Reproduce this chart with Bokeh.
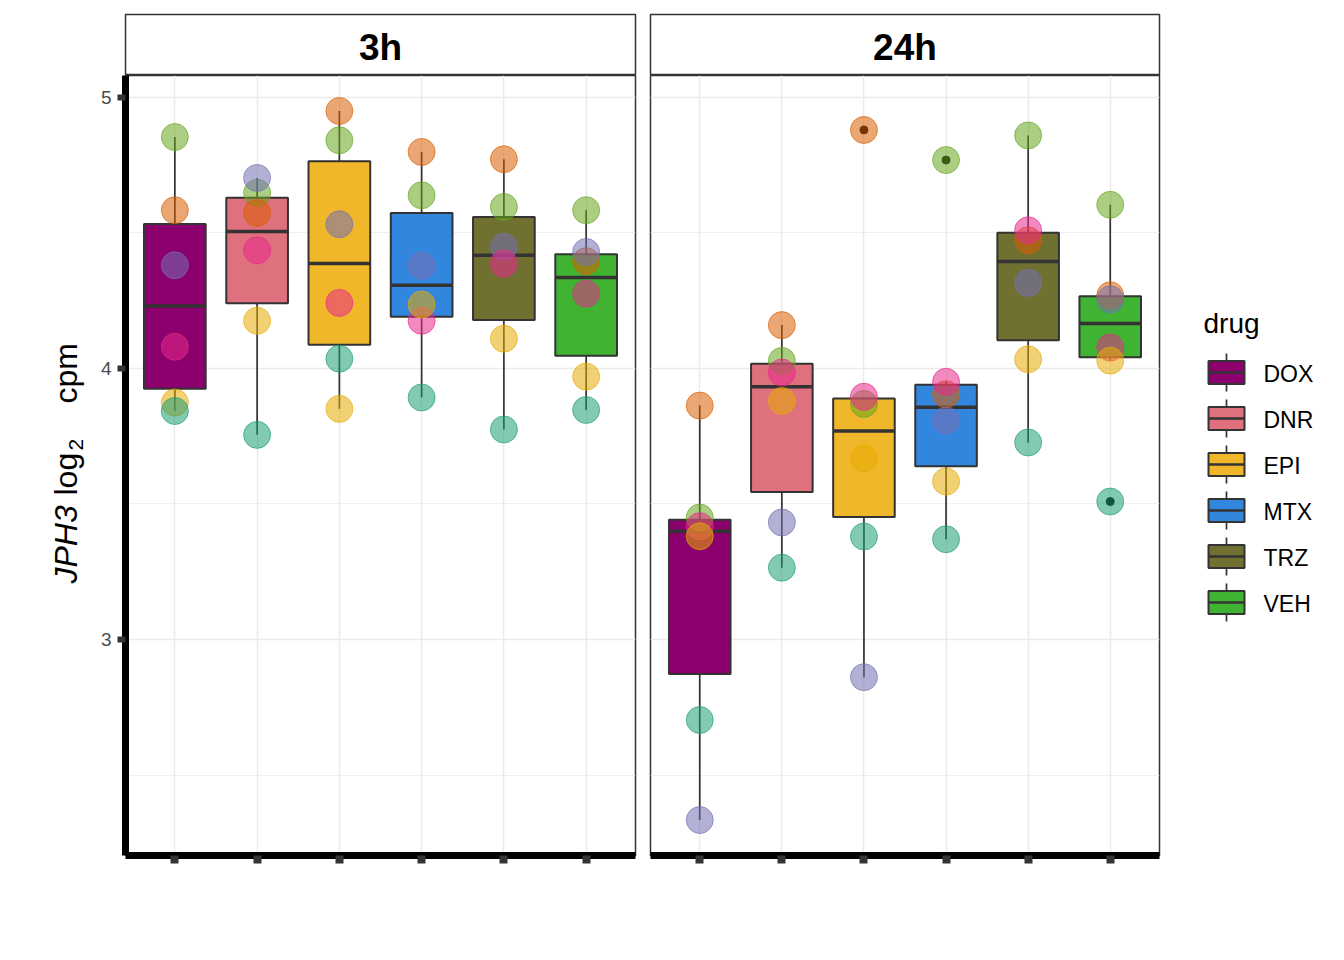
import numpy as np
from bokeh.plotting import figure
from bokeh.models import Range1d, FixedTicker, Spacer, ColumnDataSource, Grid
from bokeh.layouts import row, column
from bokeh.embed import file_html
from bokeh.resources import INLINE
from bokeh.core.properties import value

# ---------------- data ----------------
drugs = ["DOX", "DNR", "EPI", "MTX", "TRZ", "VEH"]
drug_colors = ["#8B006D", "#DF707E", "#F1B72B", "#3386DD", "#707031", "#41B333"]
times = ["3h", "24h"]

individuals = ["ind1", "ind2", "ind3", "ind4", "ind5", "ind6"]
ind_colors = ["#66A61E", "#D95F02", "#7570B3", "#E7298A", "#E6AB02", "#1B9E77"]

# values per individual, in drug order (log2 cpm)
ind1_3h = [4.854, 4.648, 4.842, 4.639, 4.596, 4.584]
ind2_3h = [4.584, 4.574, 4.950, 4.799, 4.772, 4.396]
ind3_3h = [4.381, 4.703, 4.532, 4.379, 4.449, 4.430]
ind4_3h = [4.080, 4.436, 4.242, 4.176, 4.387, 4.276]
ind5_3h = [3.874, 4.176, 3.851, 4.236, 4.110, 3.970]
ind6_3h = [3.843, 3.755, 4.036, 3.893, 3.775, 3.847]

ind1_24h = [3.450, 4.028, 3.869, 4.769, 4.860, 4.604]
ind2_24h = [3.863, 4.160, 4.880, 3.905, 4.473, 4.270]
ind3_24h = [2.334, 3.432, 2.861, 3.808, 4.316, 4.255]
ind4_24h = [3.418, 3.985, 3.896, 3.951, 4.510, 4.077]
ind5_24h = [3.381, 3.880, 3.669, 3.583, 4.034, 4.029]
ind6_24h = [2.703, 3.265, 3.380, 3.370, 3.727, 3.509]

data_by_time = {
    "3h": [ind1_3h, ind2_3h, ind3_3h, ind4_3h, ind5_3h, ind6_3h],
    "24h": [ind1_24h, ind2_24h, ind3_24h, ind4_24h, ind5_24h, ind6_24h],
}

y_ticks = [3, 4, 5]
y_minor = [2.5, 3.5, 4.5]
Y0, Y1 = 2.203, 5.081
X0, X1 = 0.4, 6.6

FONT = "Liberation Sans"
DARK = "#333333"
GRID = "#EBEBEB"

LAB_W = 90          # width of the y-label column
P1_LEFT = 125 - LAB_W


def box_stats(vals):
    v = np.array(vals)
    q1, med, q3 = np.percentile(v, [25, 50, 75])
    iqr = q3 - q1
    lo_f, hi_f = q1 - 1.5 * iqr, q3 + 1.5 * iqr
    inside = v[(v >= lo_f) & (v <= hi_f)]
    out = v[(v < lo_f) | (v > hi_f)]
    return q1, med, q3, inside.min(), inside.max(), out


def make_panel(time, width, left, right, show_y):
    p = figure(width=width, height=877, x_range=Range1d(X0, X1),
               y_range=Range1d(Y0, Y1),
               min_border_left=left, min_border_right=right,
               min_border_top=0, min_border_bottom=97,
               toolbar_location=None, output_backend="svg", title=None,
               y_axis_location="left" if show_y else None)
    p.background_fill_color = "white"
    p.border_fill_color = "white"
    p.outline_line_color = DARK
    p.outline_line_width = 1.5
    p.xgrid.visible = False
    p.ygrid.visible = False

    xs = list(range(1, len(drugs) + 1))
    p.add_layout(Grid(dimension=0, ticker=FixedTicker(ticks=xs),
                      grid_line_color=GRID, grid_line_width=1.5))
    p.add_layout(Grid(dimension=1, ticker=FixedTicker(ticks=y_ticks, minor_ticks=y_minor),
                      grid_line_color=GRID, grid_line_width=1.5,
                      minor_grid_line_color=GRID, minor_grid_line_width=0.8))

    # x axis
    p.xaxis.ticker = FixedTicker(ticks=xs)
    p.xaxis.major_label_text_color = None
    p.xaxis.axis_line_width = 7
    p.xaxis.axis_line_color = "black"
    p.xaxis.major_tick_line_width = 8
    p.xaxis.major_tick_line_color = DARK
    p.xaxis.major_tick_out = 8
    p.xaxis.major_tick_in = 0
    p.xaxis.minor_tick_line_color = None

    if show_y:
        p.yaxis.ticker = FixedTicker(ticks=y_ticks)
        p.yaxis.axis_line_width = 7
        p.yaxis.axis_line_color = "black"
        p.yaxis.major_tick_line_width = 6
        p.yaxis.major_tick_line_color = DARK
        p.yaxis.major_tick_out = 8
        p.yaxis.major_tick_in = 0
        p.yaxis.minor_tick_line_color = None
        p.yaxis.major_label_text_font = FONT
        p.yaxis.major_label_text_font_size = "19px"
        p.yaxis.major_label_text_color = "#4D4D4D"
        p.yaxis.major_label_standoff = 6

    vals = data_by_time[time]
    bw = 0.375
    wx, wy0, wy1 = [], [], []
    bl, br, bb, bt, bc = [], [], [], [], []
    mx0, mx1, my = [], [], []
    ox, oy = [], []
    for j, d in enumerate(drugs):
        col = [vals[i][j] for i in range(len(individuals))]
        q1, med, q3, lo, hi, out = box_stats(col)
        x = xs[j]
        wx += [x, x]
        wy0 += [q3, q1]
        wy1 += [hi, lo]
        bl.append(x - bw); br.append(x + bw); bb.append(q1); bt.append(q3)
        bc.append(drug_colors[j])
        mx0.append(x - bw); mx1.append(x + bw); my.append(med)
        for o in out:
            ox.append(x); oy.append(float(o))

    p.segment(x0=wx, y0=wy0, x1=wx, y1=wy1, line_color=DARK, line_width=1.7)
    p.quad(left=bl, right=br, bottom=bb, top=bt, fill_color=bc,
           line_color=DARK, line_width=2)
    p.segment(x0=mx0, y0=my, x1=mx1, y1=my, line_color=DARK, line_width=3.5)
    if ox:
        p.scatter(x=ox, y=oy, size=8, fill_color="black", line_color="black")

    px, py, pc = [], [], []
    for i, ind in enumerate(individuals):
        for j, d in enumerate(drugs):
            px.append(xs[j]); py.append(vals[i][j]); pc.append(ind_colors[i])
    src = ColumnDataSource(dict(x=px, y=py, c=pc))
    p.scatter(x="x", y="y", source=src, size=27, fill_color="c", fill_alpha=0.55,
              line_color="c", line_alpha=0.65, line_width=1)
    return p


def make_strip(label, width, left, right):
    s = figure(width=width, height=75, x_range=Range1d(0, 1), y_range=Range1d(75, 14),
               min_border_left=left, min_border_right=right, min_border_top=14,
               min_border_bottom=0, toolbar_location=None, output_backend="svg",
               title=None, x_axis_location=None, y_axis_location=None)
    s.xgrid.visible = False
    s.ygrid.visible = False
    s.outline_line_color = DARK
    s.outline_line_width = 1.5
    s.text(x=[0.5], y=[46.5], text=[label], text_font=value(FONT),
           text_font_style="bold", text_font_size="37px", text_align="center",
           text_baseline="middle", text_color="black")
    return s


def blank_fig(width, xr):
    f = figure(width=width, height=877, x_range=Range1d(*xr), y_range=Range1d(855, 75),
               min_border=0, toolbar_location=None, output_backend="svg", title=None,
               x_axis_location=None, y_axis_location=None)
    f.xgrid.visible = False
    f.ygrid.visible = False
    f.outline_line_color = None
    return f


p1 = make_panel("3h", 642 - LAB_W, P1_LEFT, 7, True)
p2 = make_panel("24h", 519, 8, 2, False)
s1 = make_strip(times[0], 642 - LAB_W, P1_LEFT, 7)
s2 = make_strip(times[1], 519, 8, 2)

# y axis label column: "JPH3" (italic) + "log" + subscript "2" + "cpm"
ylab = blank_fig(LAB_W, (0, LAB_W))
ylab_parts = ["JPH3", "log", "2", "cpm"]
ylab_x = [65, 65, 75, 65]
ylab_y = [583, 495, 450, 403]
ylab_size = ["32px", "32px", "21px", "32px"]
ylab_style = ["italic", "normal", "normal", "normal"]
ylab.text(x=ylab_x, y=ylab_y, text=ylab_parts, angle=np.pi / 2,
          text_font=value(FONT), text_font_size=ylab_size, text_font_style=ylab_style,
          text_align="left", text_baseline="middle", text_color="black")

# legend column
leg = blank_fig(175, (1161, 1336))
leg.text(x=[1203], y=[323], text=["drug"], text_font=value(FONT), text_font_size="28px",
         text_align="left", text_baseline="middle", text_color="black")
cys = [372 + 46 * i for i in range(len(drugs))]
kx = 1226
n = len(drugs)
leg.segment(x0=[kx] * n, y0=[c - 19 for c in cys], x1=[kx] * n,
            y1=[c + 19 for c in cys], line_color=DARK, line_width=1.7)
leg.quad(left=[kx - 18] * n, right=[kx + 18] * n,
         top=[c - 11.5 for c in cys], bottom=[c + 11.5 for c in cys],
         fill_color=drug_colors, line_color=DARK, line_width=2)
leg.segment(x0=[kx - 18] * n, y0=cys, x1=[kx + 18] * n, y1=cys,
            line_color=DARK, line_width=2.5)
leg.text(x=[1263] * n, y=[c + 1.5 for c in cys], text=drugs,
         text_font=value(FONT), text_font_size="23px", text_align="left",
         text_baseline="middle", text_color="black")

layout = column(row(Spacer(width=LAB_W, height=75), s1, s2, Spacer(width=175, height=75)),
                row(ylab, p1, p2, leg))

open("out.html", "w").write(file_html(layout, INLINE))
